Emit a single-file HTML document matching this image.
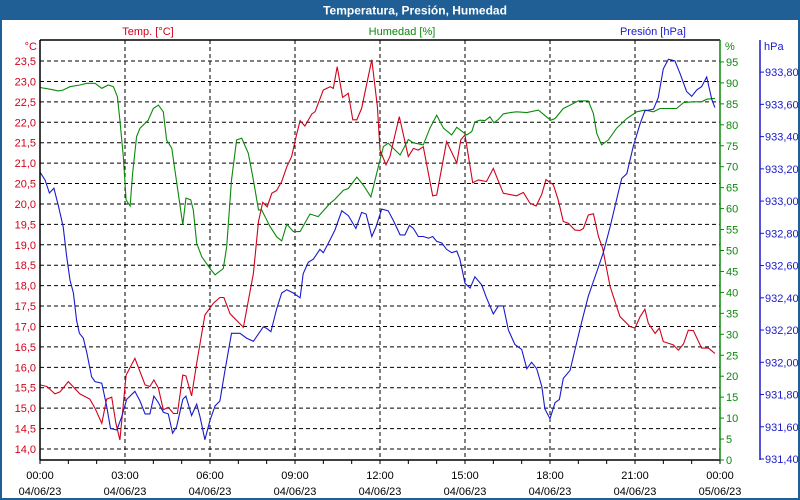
<!DOCTYPE html>
<html><head><meta charset="utf-8"><style>
html,body{margin:0;padding:0;background:#fff}
#wrap{position:relative;width:800px;height:500px;overflow:hidden;font-family:"Liberation Sans",sans-serif}
svg{position:absolute;left:0;top:0}
</style></head><body>
<div id="wrap">
<svg id="chart" width="800" height="500">
<rect x="0" y="0" width="800" height="500" fill="#fff"/>
<rect x="0" y="0" width="800" height="20" fill="#1f5f96"/>
<rect x="1" y="1" width="798" height="498" fill="none" stroke="#1f5f96" stroke-width="2"/>
<text x="415" y="14.5" text-anchor="middle" fill="#fff" font-size="12" font-weight="bold">Temperatura, Presión, Humedad</text>
<text x="148" y="35" text-anchor="middle" fill="#d0021b" font-size="11">Temp. [°C]</text>
<text x="402" y="35" text-anchor="middle" fill="#0a8a0a" font-size="11">Humedad [%]</text>
<text x="686" y="35" text-anchor="end" fill="#1a1acc" font-size="11">Presión [hPa]</text>
<text x="37" y="50" text-anchor="end" fill="#d0021b" font-size="11">°C</text>
<text x="725" y="50" fill="#0a8a0a" font-size="11">%</text>
<text x="764" y="50" fill="#1a1acc" font-size="11">hPa</text>
<g id="grid"></g><g id="series"></g><g id="axes"></g>
</svg>
</div>
<script>
const tempT=[0,.24,.53,.71,1.0,1.41,1.76,1.94,2.18,2.35,2.53,2.68,2.82,3.04,3.35,3.71,3.88,4.02,4.18,4.35,4.53,4.71,4.85,5.04,5.15,5.35,5.53,5.82,6.12,6.35,6.49,6.71,7.18,7.53,7.71,7.86,8.02,8.18,8.35,8.53,8.71,8.88,9.04,9.18,9.35,9.59,9.71,10.0,10.24,10.35,10.49,10.68,10.88,11.04,11.18,11.35,11.71,11.91,12.0,12.21,12.35,12.68,13.0,13.18,13.35,13.53,13.86,14.0,14.35,14.71,14.85,15.0,15.27,15.47,15.76,16.0,16.35,16.82,17.06,17.29,17.51,17.71,17.86,18.12,18.29,18.47,18.65,18.88,19.06,19.18,19.35,19.53,19.71,19.86,20.12,20.47,20.82,21.0,21.18,21.35,21.47,21.71,21.86,22.0,22.35,22.53,22.71,22.88,23.06,23.35,23.59,23.82];
const tempV=[15.57,15.53,15.35,15.40,15.65,15.35,15.22,15.00,14.63,15.22,15.27,14.63,14.22,15.81,16.22,15.57,15.53,15.69,15.49,14.96,15.02,14.87,14.87,15.81,15.79,15.30,16.10,17.28,17.57,17.71,17.71,17.31,16.98,18.30,19.57,20.04,19.93,20.26,20.33,20.55,20.91,21.16,21.65,22.04,21.91,22.20,22.26,22.79,22.87,22.83,23.36,22.61,22.71,22.06,22.06,22.34,23.53,22.38,21.32,20.96,21.16,22.14,21.16,21.36,21.32,21.40,20.20,20.22,21.53,21.00,21.57,21.69,20.52,20.59,20.55,20.87,20.26,20.20,20.28,20.02,19.95,20.24,20.60,20.47,20.10,19.57,19.53,19.36,19.35,19.40,19.73,19.76,19.20,18.91,17.98,17.24,17.00,16.96,17.24,17.42,17.08,16.83,16.96,16.63,16.55,16.42,16.57,16.91,16.90,16.47,16.47,16.34];
const humT=[0,.35,.65,.82,1.06,1.41,1.65,1.94,2.18,2.41,2.59,2.73,2.82,2.94,3.04,3.18,3.27,3.41,3.53,3.82,4.0,4.18,4.35,4.47,4.65,4.76,4.88,5.04,5.15,5.32,5.41,5.53,5.71,6.0,6.18,6.47,6.59,6.76,6.94,7.12,7.35,7.53,7.71,7.82,8.12,8.35,8.53,8.71,8.94,9.18,9.53,9.82,10.24,10.41,10.71,10.88,11.18,11.41,11.68,11.94,12.12,12.29,12.71,13.0,13.18,13.53,13.76,14.0,14.24,14.53,14.71,15.06,15.24,15.35,15.53,15.71,15.88,16.02,16.18,16.35,16.59,16.82,17.18,17.59,18.02,18.18,18.47,18.71,19.0,19.35,19.53,19.65,19.82,20.06,20.35,20.71,21.06,21.35,21.65,21.88,22.47,22.71,23.06,23.35,23.53,23.82];
const humV=[88.9,88.5,88.1,88.3,89.1,89.5,89.9,89.9,88.7,89.5,89.1,86.7,81.1,72.4,62.1,60.6,68.4,77.2,79.2,81.1,83.9,84.7,83.1,76.4,74.4,69.2,63.6,56.1,62.5,62.1,59.7,51.7,48.5,45.7,44.2,45.7,50.9,66.8,76.4,76.8,73.2,66.8,59.7,59.7,55.7,53.3,52.3,56.3,54.5,54.5,58.7,58.1,61.3,62.2,64.4,64.8,67.5,65.6,62.8,70.0,74.8,75.6,72.8,76.5,75.7,75.2,79.2,82.3,79.2,77.6,79.4,77.6,78.4,80.7,81.1,81.0,81.9,80.5,81.3,82.6,82.9,83.1,82.9,83.5,81.1,81.5,83.9,84.7,85.7,85.7,82.7,78.0,75.2,76.4,79.2,81.5,83.1,83.5,83.1,83.9,83.9,85.3,85.5,85.5,86.1,86.3];
const presT=[0,.18,.33,.49,.65,.82,.94,1.06,1.18,1.29,1.39,1.53,1.65,1.82,1.94,2.18,2.35,2.49,2.71,2.88,3.06,3.35,3.53,3.71,3.88,4.02,4.18,4.35,4.53,4.68,4.82,5.04,5.15,5.35,5.53,5.65,5.82,6.0,6.18,6.35,6.53,6.76,7.06,7.29,7.53,7.88,8.0,8.15,8.35,8.53,8.71,8.94,9.18,9.29,9.47,9.65,9.88,10.0,10.24,10.41,10.65,10.88,11.15,11.35,11.51,11.71,11.86,12.06,12.29,12.47,12.71,12.88,13.04,13.18,13.35,13.53,13.71,13.86,14.0,14.18,14.35,14.53,14.71,14.82,15.0,15.18,15.35,15.59,15.76,16.0,16.18,16.35,16.53,16.76,17.0,17.18,17.35,17.53,17.71,17.82,18.0,18.18,18.33,18.47,18.71,18.94,19.12,19.35,19.65,19.88,20.12,20.35,20.53,20.71,20.94,21.18,21.35,21.65,21.82,22.0,22.18,22.41,22.59,22.82,23.0,23.18,23.35,23.53,23.71,23.82];
const presV=[933.18,933.13,933.05,933.08,932.97,932.84,932.66,932.51,932.43,932.26,932.18,932.15,932.06,931.91,931.88,931.87,931.73,931.59,931.58,931.66,931.77,931.82,931.76,931.68,931.68,931.79,931.75,931.69,931.68,931.56,931.60,931.77,931.79,931.67,931.74,931.66,931.52,931.64,931.73,931.76,931.95,932.18,932.18,932.15,932.13,932.22,932.21,932.19,932.33,932.43,932.45,932.43,932.40,932.55,932.62,932.64,932.70,932.68,932.76,932.82,932.94,932.91,932.83,932.93,932.92,932.78,932.84,932.95,932.94,932.88,932.79,932.79,932.85,932.83,932.78,932.78,932.77,932.78,932.75,932.74,932.70,932.68,932.69,932.64,932.49,932.46,932.53,932.48,932.40,932.30,932.35,932.35,932.20,932.11,932.08,931.96,932.00,931.96,931.85,931.71,931.65,931.75,931.77,931.90,931.95,932.12,932.25,932.41,932.56,932.68,932.84,933.01,933.14,933.17,933.34,933.48,933.56,933.57,933.64,933.82,933.88,933.87,933.79,933.68,933.65,933.69,933.71,933.77,933.63,933.58];
const tempTicks=["14,0","14,5","15,0","15,5","16,0","16,5","17,0","17,5","18,0","18,5","19,0","19,5","20,0","20,5","21,0","21,5","22,0","22,5","23,0","23,5"];
const humTicks=[0,5,10,15,20,25,30,35,40,45,50,55,60,65,70,75,80,85,90,95];
const presTicks=["931,40","931,60","931,80","932,00","932,20","932,40","932,60","932,80","933,00","933,20","933,40","933,60","933,80"];
const xTimes=["00:00","03:00","06:00","09:00","12:00","15:00","18:00","21:00","00:00"];
const xDates=["04/06/23","04/06/23","04/06/23","04/06/23","04/06/23","04/06/23","04/06/23","04/06/23","05/06/23"];

const L=40,R=720,T=40,B=460;
const xS=h=>L+h*(R-L)/24;
const yT=v=>449-(v-14)*40.84;
const yH=v=>460-v*4.19;
const yP=v=>459-(v-931.4)*161.2;
const NS="http://www.w3.org/2000/svg";
function mk(tag,attrs,parent,txt){const e=document.createElementNS(NS,tag);for(const k in attrs)e.setAttribute(k,attrs[k]);if(txt!==undefined)e.textContent=txt;parent.appendChild(e);return e;}
const grid=document.getElementById('grid'),ser=document.getElementById('series'),ax=document.getElementById('axes');
tempTicks.forEach((t,i)=>{const v=14+i*0.5,y=yT(v);
 const g=mk('line',{x1:L,x2:R,y1:y,y2:y,stroke:'#000','stroke-dasharray':'4,3','stroke-width':1},grid);
 
 
 const tx=mk('text',{x:36,y:y+4,'text-anchor':'end',fill:'#d0021b','font-size':11},ax,t);
 
 });
for(let i=1;i<8;i++){const x=xS(i*3);
 const g=mk('line',{x1:x,x2:x,y1:T,y2:B,stroke:'#000','stroke-dasharray':'4,3','stroke-width':1},grid);
 
 }
humTicks.forEach(v=>{const y=yH(v);
 mk('line',{x1:R,x2:R+4,y1:y,y2:y,stroke:'#0a8a0a'},ax);
 const tx=mk('text',{x:726,y:y+4,fill:'#0a8a0a','font-size':11},ax,String(v));
 
 });
presTicks.forEach((t,i)=>{const y=yP(931.4+i*0.2);
 mk('line',{x1:760,x2:764,y1:y,y2:y,stroke:'#1a1acc'},ax);
 const tx=mk('text',{x:765,y:y+4,fill:'#1a1acc','font-size':11},ax,t);
 
 });
for(let h=0;h<=24;h++){const x=xS(h);mk('line',{x1:x,x2:x,y1:B,y2:B+4,stroke:'#000'},ax);}
xTimes.forEach((t,i)=>{const x=xS(i*3);
 const a=mk('text',{x:x,y:479,'text-anchor':'middle',fill:'#000','font-size':11},ax,t);
 
 
 const b=mk('text',{x:x,y:495,'text-anchor':'middle',fill:'#000','font-size':11},ax,xDates[i]);
 
 });
function line(ts,vs,yf,col,name){const p=mk('polyline',{points:ts.map((t,i)=>xS(t).toFixed(1)+','+yf(vs[i]).toFixed(1)).join(' '),fill:'none',stroke:col,'stroke-width':1.1},ser);
 
 }
line(humT,humV,yH,'#0a8a0a','humidity-line');
line(tempT,tempV,yT,'#d0021b','temperature-line');
line(presT,presV,yP,'#1a1acc','pressure-line');
mk('line',{x1:L,x2:R,y1:T,y2:T,stroke:'#000','stroke-width':1.5},ax);
mk('line',{x1:L,x2:L,y1:T,y2:B,stroke:'#000','stroke-width':1.5},ax);
mk('line',{x1:L,x2:R,y1:B,y2:B,stroke:'#000','stroke-width':1.5},ax);
mk('line',{x1:R,x2:R,y1:T,y2:B,stroke:'#0a8a0a','stroke-width':1.5},ax);
mk('line',{x1:760,x2:760,y1:T,y2:B,stroke:'#1a1acc','stroke-width':1.5},ax);
</script>
</body></html>
